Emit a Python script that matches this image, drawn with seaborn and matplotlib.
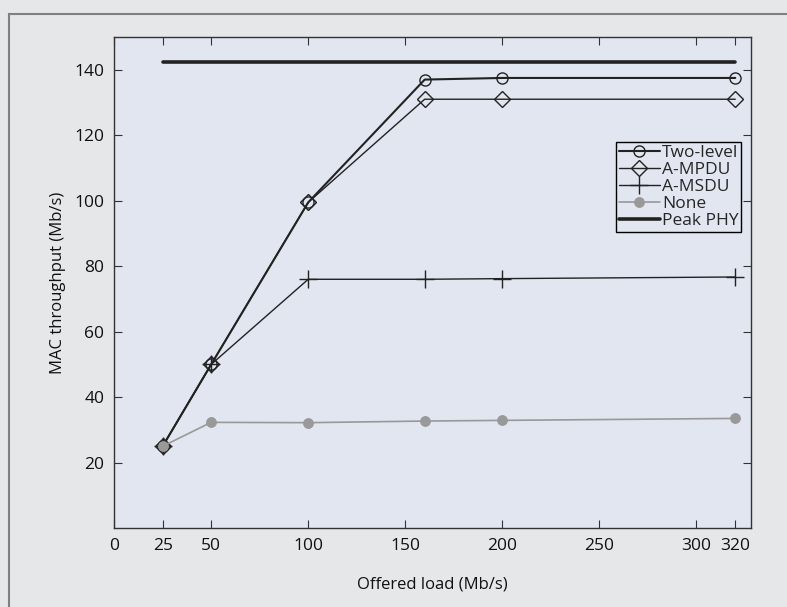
import matplotlib
matplotlib.use("Agg")
import matplotlib.pyplot as plt
from matplotlib.patches import Rectangle
import seaborn as sns

# データ
load = [25, 50, 100, 160, 200, 320]
two_level = [25, 50, 99.5, 137, 137.5, 137.5]
a_mpdu = [25, 50, 99.5, 131, 131, 131]
a_msdu = [25, 50, 76, 76, 76.2, 76.7]
none = [25, 32.3, 32.2, 32.7, 32.9, 33.5]
peak_x = [25, 320]
peak_phy = [142.5, 142.5]
xticks = [0, 25, 50, 100, 150, 200, 250, 300, 320]
yticks = [20, 40, 60, 80, 100, 120, 140]

sns.set_style("ticks")
plt.rcParams['font.family'] = ['Open Sans', 'DejaVu Sans']

fig = plt.figure(figsize=(7.87, 6.07), dpi=100)
fig.patch.set_facecolor('#e6e7e8')
# 外枠（左と上だけ見える）
fig.patches.append(Rectangle((0.011, -0.1), 1.2, 1.077, transform=fig.transFigure,
                             fill=False, edgecolor='#808080', linewidth=1.5))
ax = fig.add_axes([0.145, 0.130, 0.809, 0.809])
ax.set_facecolor('#e1e6f0')

dark = '#222222'
sns.lineplot(x=peak_x, y=peak_phy, ax=ax, color=dark, linewidth=2.6, label='Peak PHY', zorder=2)
sns.lineplot(x=load, y=a_msdu, ax=ax, color=dark, linewidth=1.0, marker='+',
             markersize=13, markeredgewidth=1.0, markeredgecolor=dark,
             label='A-MSDU', zorder=4)
sns.lineplot(x=load, y=a_mpdu, ax=ax, color=dark, linewidth=1.0, marker='D',
             markersize=8, markerfacecolor='none', markeredgecolor=dark,
             markeredgewidth=1.0, label='A-MPDU', zorder=5)
sns.lineplot(x=load, y=two_level, ax=ax, color=dark, linewidth=1.5, marker='o',
             markersize=8, markerfacecolor='none', markeredgecolor=dark,
             markeredgewidth=1.0, label='Two-level', zorder=6)
sns.lineplot(x=load, y=none, ax=ax, color='#999999', linewidth=1.2, marker='o',
             markersize=7, markeredgecolor='#999999', label='None', zorder=7)

ax.set_xlim(0, 328)
ax.set_ylim(0, 150)
ax.set_xticks(xticks)
ax.set_yticks(yticks)
ax.tick_params(direction='in', top=True, right=True, length=6, labelsize=12.5, pad=7,
               color='#333333', labelcolor='#111111')
for s in ax.spines.values():
    s.set_color('#333333')
    s.set_linewidth(1.0)
ax.set_xlabel('Offered load (Mb/s)', fontsize=12, labelpad=16, color='#111111')
ax.set_ylabel('MAC throughput (Mb/s)', fontsize=12, labelpad=6, color='#111111')

# 凡例の順番を図に合わせる
h, l = ax.get_legend_handles_labels()
order = ['Two-level', 'A-MPDU', 'A-MSDU', 'None', 'Peak PHY']
hh = [h[l.index(o)] for o in order]
leg = ax.legend(hh, order, loc='upper right', bbox_to_anchor=(0.985, 0.786), fontsize=12.5,
                frameon=True, fancybox=False, edgecolor='black', facecolor='#e1e6f0',
                framealpha=1, handlelength=2.4, handletextpad=0.1, labelspacing=0.05,
                borderpad=0.15, borderaxespad=0)
leg.get_frame().set_linewidth(1.0)

fig.savefig('out.png', dpi=100, facecolor=fig.get_facecolor())
